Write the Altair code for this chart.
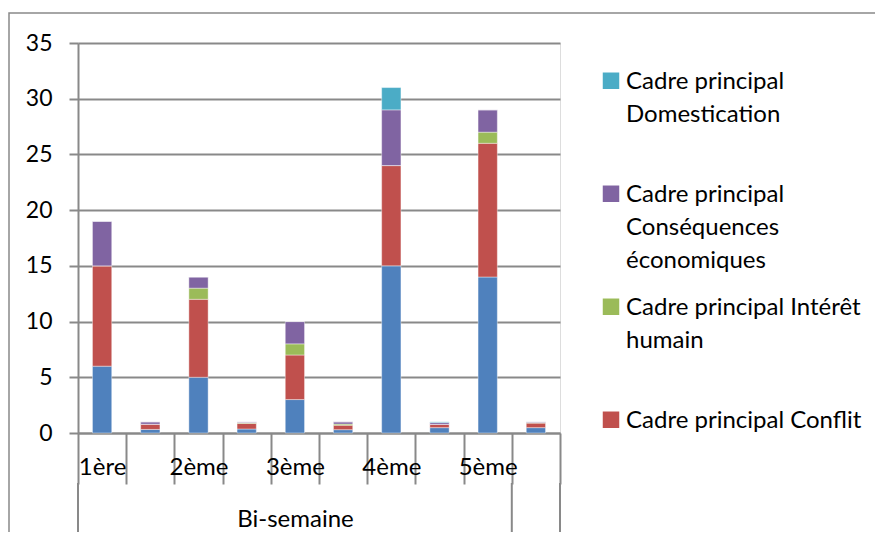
import json
import altair as alt
import pandas as pd

# ---- data ----
cat_labels = ["1ère", "", "2ème", "", "3ème", "", "4ème", "", "5ème", ""]
series_names = [
    "Cadre principal Responsabilité",
    "Cadre principal Conflit",
    "Cadre principal Intérêt humain",
    "Cadre principal Conséquences économiques",
    "Cadre principal Domestication",
]
series_colors = ["#4F81BD", "#C0504D", "#9BBB59", "#8064A2", "#4BACC6"]
blue   = [6, 0.32, 5, 0.36, 3, 0.30, 15, 0.48, 14, 0.48]
red    = [9, 0.47, 7, 0.50, 4, 0.40, 9, 0.29, 12, 0.41]
green  = [0, 0.00, 1, 0.07, 1, 0.10, 0, 0.00, 1, 0.04]
purple = [4, 0.21, 1, 0.07, 2, 0.20, 5, 0.16, 2, 0.07]
cyan   = [0, 0.00, 0, 0.00, 0, 0.00, 2, 0.07, 0, 0.00]
y_ticks = [0, 5, 10, 15, 20, 25, 30, 35]
legend_order = [
    "Cadre principal Domestication",
    "Cadre principal Conséquences économiques",
    "Cadre principal Intérêt humain",
    "Cadre principal Conflit",
]
legend_lines = {
    "Cadre principal Domestication": ["Cadre principal", "Domestication"],
    "Cadre principal Conséquences économiques": ["Cadre principal", "Conséquences", "économiques"],
    "Cadre principal Intérêt humain": ["Cadre principal Intérêt", "humain"],
    "Cadre principal Conflit": ["Cadre principal Conflit"],
}
group_title = "Bi-semaine"

cat_ids = [str(i) for i in range(len(cat_labels))]
rows = []
for si, (name, vals) in enumerate(zip(series_names, [blue, red, green, purple, cyan])):
    for ci, v in enumerate(vals):
        rows.append({"cat": cat_ids[ci], "series": name, "idx": si, "value": v})
df = pd.DataFrame(rows)

# ---- style ----
W, H = 482, 390
GRAY = "#898989"
FONT = "Lato"

x_scale = alt.Scale(domain=cat_ids, paddingInner=0, paddingOuter=0)
label_expr = json.dumps(cat_labels, ensure_ascii=False) + "[toNumber(datum.value)]"
x_axis = alt.Axis(
    title=group_title, labelExpr=label_expr, labelAngle=0, labelFont=FONT,
    labelFontSize=24, labelColor="black", labelBaseline="middle", labelPadding=-17,
    tickBand="extent", tickSize=51, tickColor=GRAY, tickWidth=2,
    domainColor=GRAY, domainWidth=2, grid=False,
    titleFont=FONT, titleFontSize=24, titleFontWeight="normal", titleColor="black",
    titleX=217, titleY=86, titleBaseline="middle", titleAlign="center",
)
y_axis = alt.Axis(
    values=y_ticks, title=None, grid=True, gridColor=GRAY, gridWidth=2,
    domainColor=GRAY, domainWidth=2, tickColor=GRAY, tickWidth=2, tickSize=9,
    labelFont=FONT, labelFontSize=23, labelColor="black", labelPadding=17,
)

parts = []
for name in legend_order:
    lines = legend_lines[name] + [""] * (3 - len(legend_lines[name]))
    parts.append(f"datum.label === {json.dumps(name, ensure_ascii=False)} ? {json.dumps(lines, ensure_ascii=False)} : ")
legend_expr = "".join(parts) + "datum.label"

legend = alt.Legend(
    title=None, values=legend_order, orient="none", legendX=521, legendY=34,
    symbolType="M-1,-2H1V0H-1Z", symbolSize=272, symbolStrokeWidth=0,
    symbolOpacity=1, labelExpr=legend_expr, labelFont=FONT, labelFontSize=24,
    labelColor="black", labelBaseline="alphabetic", labelOffset=3, labelLimit=400,
    rowPadding=23, padding=0,
)

border = alt.Chart(pd.DataFrame({"k": [0]})).mark_rect(
    fillOpacity=0, stroke=GRAY, strokeWidth=1.5
).encode(
    x=alt.value(-69), x2=alt.value(1200), y=alt.value(-30), y2=alt.value(1200)
)

bars = alt.Chart(df).mark_bar(
    width=alt.RelativeBandSize(0.4), stroke="white", strokeWidth=0.8, strokeOpacity=0.5
).encode(
    x=alt.X("cat:N", scale=x_scale, sort=cat_ids, axis=x_axis),
    y=alt.Y("value:Q", stack="zero", scale=alt.Scale(domain=[0, 35]), axis=y_axis),
    color=alt.Color("series:N", scale=alt.Scale(domain=series_names, range=series_colors), legend=legend),
    order=alt.Order("idx:Q", sort="ascending"),
)

group_starts = alt.Chart(pd.DataFrame({"cat": [cat_ids[0], cat_ids[-1]]})).mark_rule(
    color=GRAY, strokeWidth=2
).encode(
    x=alt.X("cat:N", scale=x_scale, sort=cat_ids, axis=x_axis, bandPosition=0),
    y=alt.value(H + 50), y2=alt.value(H + 200),
)
group_end = alt.Chart(pd.DataFrame({"cat": [cat_ids[-1]]})).mark_rule(
    color=GRAY, strokeWidth=2
).encode(
    x=alt.X("cat:N", scale=x_scale, sort=cat_ids, axis=x_axis, bandPosition=1),
    y=alt.value(H + 50), y2=alt.value(H + 200),
)

chart = alt.layer(border, bars, group_starts, group_end).properties(
    width=W, height=H,
    autosize=alt.AutoSizeParams(type="none"),
    padding={"left": 70, "top": 35, "right": 315, "bottom": 99},
).configure_view(stroke=None).configure(
    style={"guide-label": {"lineHeight": 33}}
)

chart.save("out.html", embed_options={"renderer": "svg", "actions": False})
